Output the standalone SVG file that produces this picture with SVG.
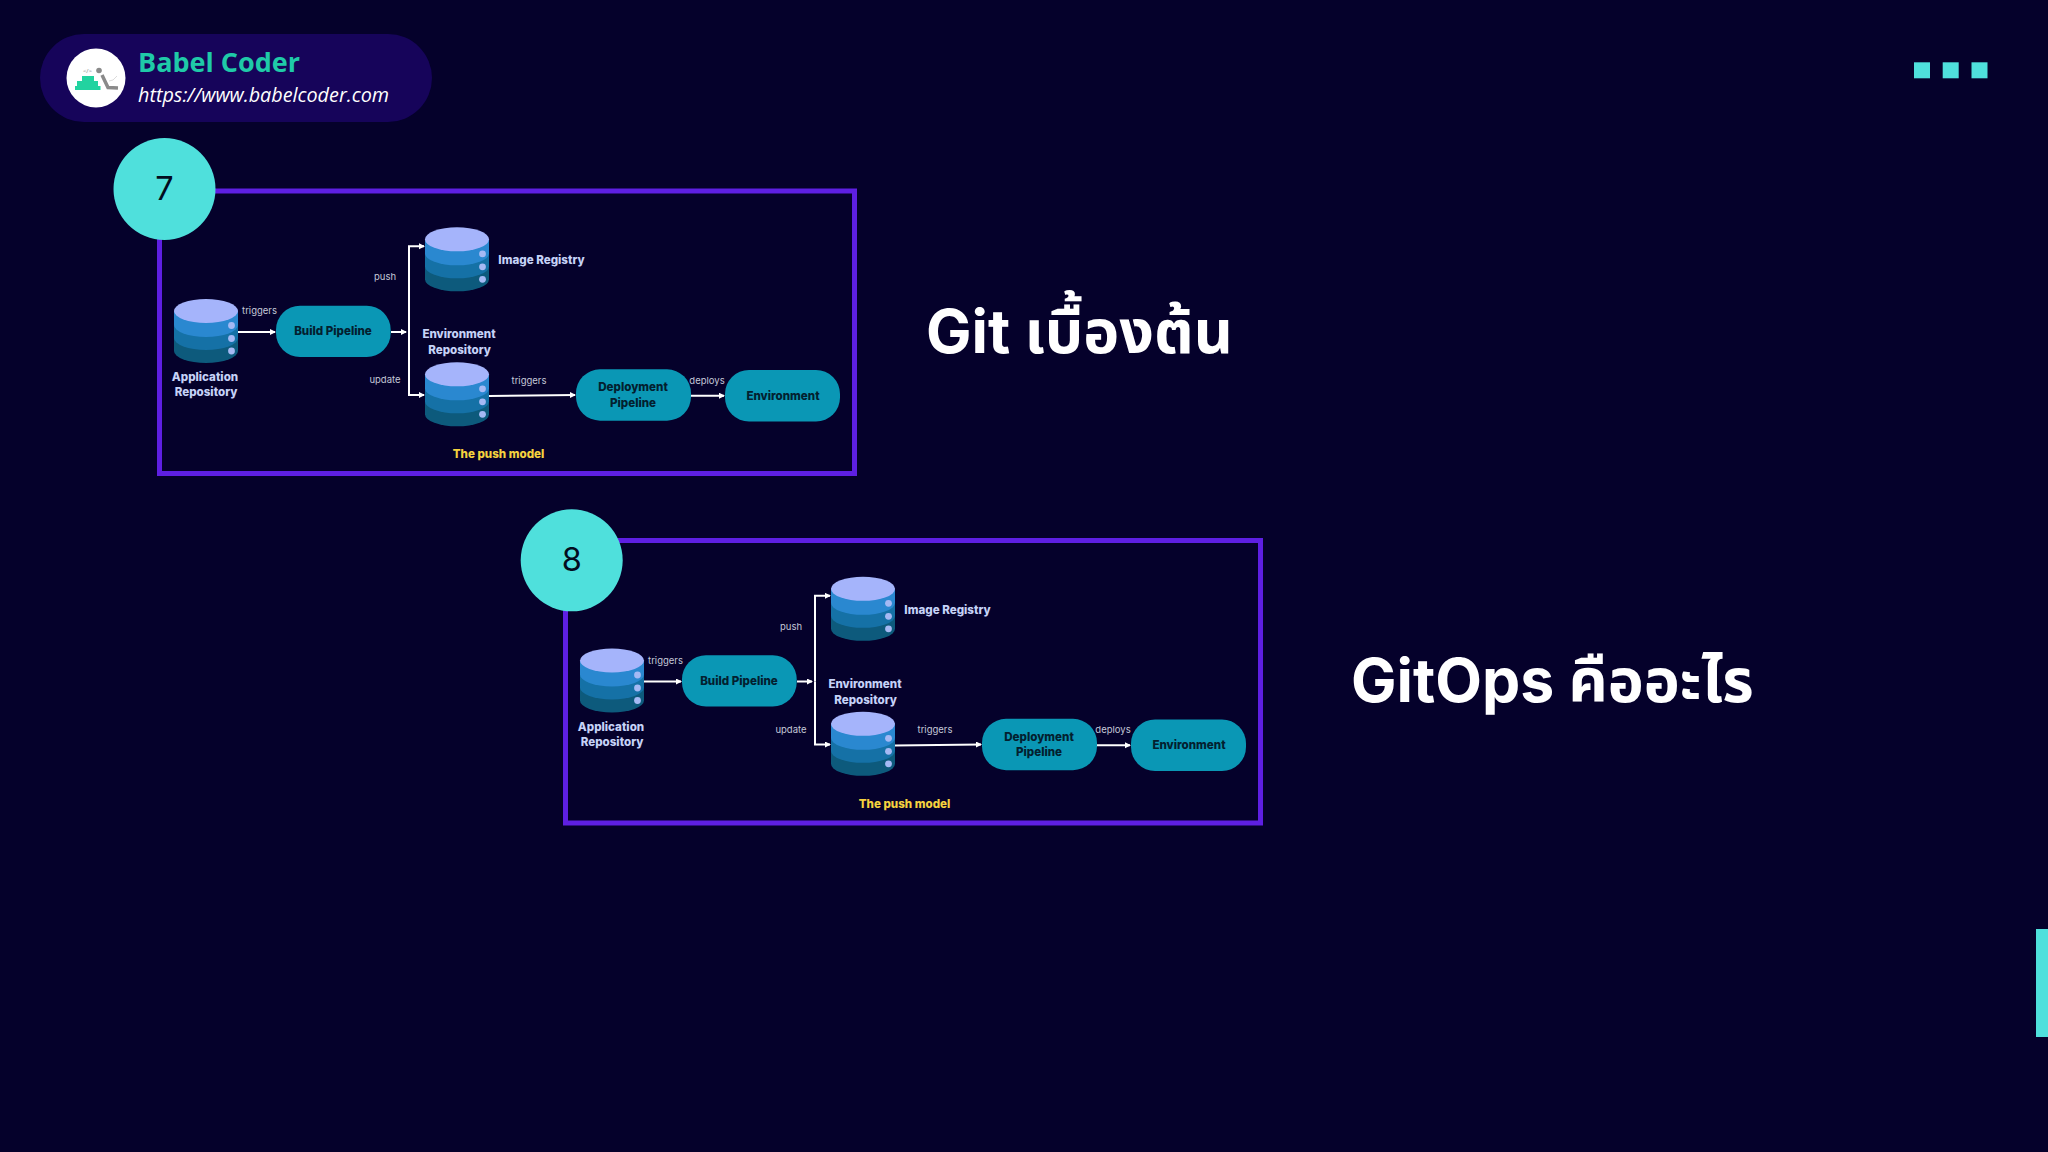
<svg xmlns="http://www.w3.org/2000/svg" width="2048" height="1152" viewBox="0 0 2048 1152">
<style>
.f{fill:none;stroke:#5e1fe2;stroke-width:5}
.b{fill:#4fe0dc}
.p{fill:#0a97b5}
.c{fill:none;stroke:#fff;stroke-width:2}
.n{font-family:Inter,"Noto Sans",sans-serif;font-weight:800;text-anchor:middle}
.lb{font-size:11.6px;fill:#c6d2f7}
.dk{font-size:11.6px;fill:#03202f}
.e{font-family:Inter,"Noto Sans",sans-serif;font-size:9.5px;fill:#c4c8d8;text-anchor:middle}
.y{font-size:11.6px;fill:#f5d23e}
.num{font-family:Inter,"Noto Sans",sans-serif;font-size:32.5px;fill:#030c1e;text-anchor:middle}
.t{font-family:Inter,"Noto Sans Thai","Noto Sans",sans-serif;font-weight:700;font-size:60.7px;fill:#fff}
</style>
<defs>
<marker id="a" markerWidth="6" markerHeight="7" refX="5" refY="3" orient="auto" markerUnits="userSpaceOnUse"><path d="M0 0L6 3L0 6Z" fill="#fff"/></marker>
<g id="cyl">
<path d="M-32 27V40A32 12 0 0 0 32 40V27Z" fill="#0d5a7c"/>
<path d="M-32 14V27A32 12 0 0 0 32 27V14Z" fill="#1571a6"/>
<path d="M-32 0V14A32 12 0 0 0 32 14V0Z" fill="#2a88d0"/>
<ellipse cx="0" cy="0" rx="32" ry="12" fill="#a5b4fb"/>
<circle cx="25.5" cy="14.5" r="3.4" fill="#a5b9f4"/>
<circle cx="25.5" cy="27.5" r="3.4" fill="#a5b9f4"/>
<circle cx="25.5" cy="40" r="3.4" fill="#a5b9f4"/>
</g>
</defs>
<rect id="background" width="2048" height="1152" fill="#05012b"/>
<g id="brand">
<rect x="40" y="34" width="392" height="88" rx="44" fill="#16045a"/>
<circle cx="96" cy="78" r="29.5" fill="#fff"/>
<rect x="82" y="76" width="12" height="5" fill="#22d3a0"/>
<rect x="77" y="81" width="21" height="5" fill="#22d3a0"/>
<rect x="75" y="86" width="25.500" height="4" fill="#22d3a0"/>
<text x="87.500" y="73" font-family="'Noto Sans',sans-serif" font-size="6" fill="#888" text-anchor="middle">&lt;/&gt;</text>
<circle cx="99" cy="70.500" r="2.800" fill="#8a8a8a"/>
<path d="M102 75L108 87.500L118 88" fill="none" stroke="#8a8a8a" stroke-width="3.500"/>
<path d="M109 81L113 80L117 76" fill="none" stroke="#ccc" stroke-width="0.700"/>
<text x="138" y="72" font-family="'Open Sans',sans-serif" font-weight="700" font-size="27" fill="#1fcaa8">Babel Coder</text>
<text x="138" y="102" font-family="'Open Sans',sans-serif" font-style="italic" font-size="19.800" fill="#fff">https://www.babelcoder.com</text>
</g>
<g id="dots">
<rect class="b" x="1914" y="62.300" width="16" height="16"/>
<rect class="b" x="1942.700" y="62.300" width="16" height="16"/>
<rect class="b" x="1971.500" y="62.300" width="16" height="16"/>
</g>
<rect id="side-bar" class="b" x="2036" y="929" width="12" height="108"/>

<g id="slide-7">
<rect id="frame-7" class="f" x="159.500" y="191" width="695" height="282.500"/>
<g id="connectors-7">
<path class="c" d="M238 332H275" marker-end="url(#a)"/>
<path class="c" d="M391 332H406" marker-end="url(#a)"/>
<path class="c" d="M409 332V246.300H424" marker-end="url(#a)"/>
<path class="c" d="M409 332V395H424" marker-end="url(#a)"/>
<path class="c" d="M489 396L575 395" marker-end="url(#a)"/>
<path class="c" d="M691 395.700H724" marker-end="url(#a)"/>
</g>
<g id="badge-7"><circle class="b" cx="164.500" cy="189" r="51"/><text class="num" x="164.500" y="199.500">7</text></g>
<g id="app-repo-7"><use href="#cyl" x="206" y="311"/><text class="n lb" x="205" y="381">Application</text><text class="n lb" x="206" y="396">Repository</text></g>
<g id="image-registry-7"><use href="#cyl" x="457" y="239.300"/><text class="n lb" x="541.500" y="264">Image Registry</text></g>
<g id="env-repo-7"><use href="#cyl" x="457" y="374.300"/><text class="n lb" x="459" y="338">Environment</text><text class="n lb" x="459.500" y="354">Repository</text></g>
<g id="build-7"><rect class="p" x="276" y="305.700" width="114.700" height="51.300" rx="24"/><text class="n dk" x="333" y="335">Build Pipeline</text></g>
<g id="deploy-7"><rect class="p" x="576" y="369.300" width="115" height="51.400" rx="24"/><text class="n dk" x="633" y="391">Deployment</text><text class="n dk" x="633" y="406.500">Pipeline</text></g>
<g id="environment-7"><rect class="p" x="725" y="370" width="115" height="51.500" rx="24"/><text class="n dk" x="783" y="399.500">Environment</text></g>
<g id="labels-7">
<text class="e" x="259.500" y="314">triggers</text>
<text class="e" x="385" y="280">push</text>
<text class="e" x="385" y="383">update</text>
<text class="e" x="529" y="383.500">triggers</text>
<text class="e" x="707" y="383.500">deploys</text>
<text class="n y" x="498.500" y="458">The push model</text>
</g>
</g>
<text id="title-7" class="t" x="926" y="353">Git เบื้องต้น</text>

<g id="slide-8" transform="translate(406 349.500)">
<rect id="frame-8" class="f" x="159.500" y="191" width="695" height="282.500"/>
<g id="connectors-8">
<path class="c" d="M238 332H275" marker-end="url(#a)"/>
<path class="c" d="M391 332H406" marker-end="url(#a)"/>
<path class="c" d="M409 332V246.300H424" marker-end="url(#a)"/>
<path class="c" d="M409 332V395H424" marker-end="url(#a)"/>
<path class="c" d="M489 396L575 395" marker-end="url(#a)"/>
<path class="c" d="M691 395.700H724" marker-end="url(#a)"/>
</g>
<g id="badge-8"><circle class="b" cx="165.700" cy="210.800" r="51"/><text class="num" x="165.700" y="221">8</text></g>
<g id="app-repo-8"><use href="#cyl" x="206" y="311"/><text class="n lb" x="205" y="381">Application</text><text class="n lb" x="206" y="396">Repository</text></g>
<g id="image-registry-8"><use href="#cyl" x="457" y="239.300"/><text class="n lb" x="541.500" y="264">Image Registry</text></g>
<g id="env-repo-8"><use href="#cyl" x="457" y="374.300"/><text class="n lb" x="459" y="338">Environment</text><text class="n lb" x="459.500" y="354">Repository</text></g>
<g id="build-8"><rect class="p" x="276" y="305.700" width="114.700" height="51.300" rx="24"/><text class="n dk" x="333" y="335">Build Pipeline</text></g>
<g id="deploy-8"><rect class="p" x="576" y="369.300" width="115" height="51.400" rx="24"/><text class="n dk" x="633" y="391">Deployment</text><text class="n dk" x="633" y="406.500">Pipeline</text></g>
<g id="environment-8"><rect class="p" x="725" y="370" width="115" height="51.500" rx="24"/><text class="n dk" x="783" y="399.500">Environment</text></g>
<g id="labels-8">
<text class="e" x="259.500" y="314">triggers</text>
<text class="e" x="385" y="280">push</text>
<text class="e" x="385" y="383">update</text>
<text class="e" x="529" y="383.500">triggers</text>
<text class="e" x="707" y="383.500">deploys</text>
<text class="n y" x="498.500" y="458">The push model</text>
</g>
</g>
<text id="title-8" class="t" x="1351" y="701.500">GitOps คืออะไร</text>
</svg>
